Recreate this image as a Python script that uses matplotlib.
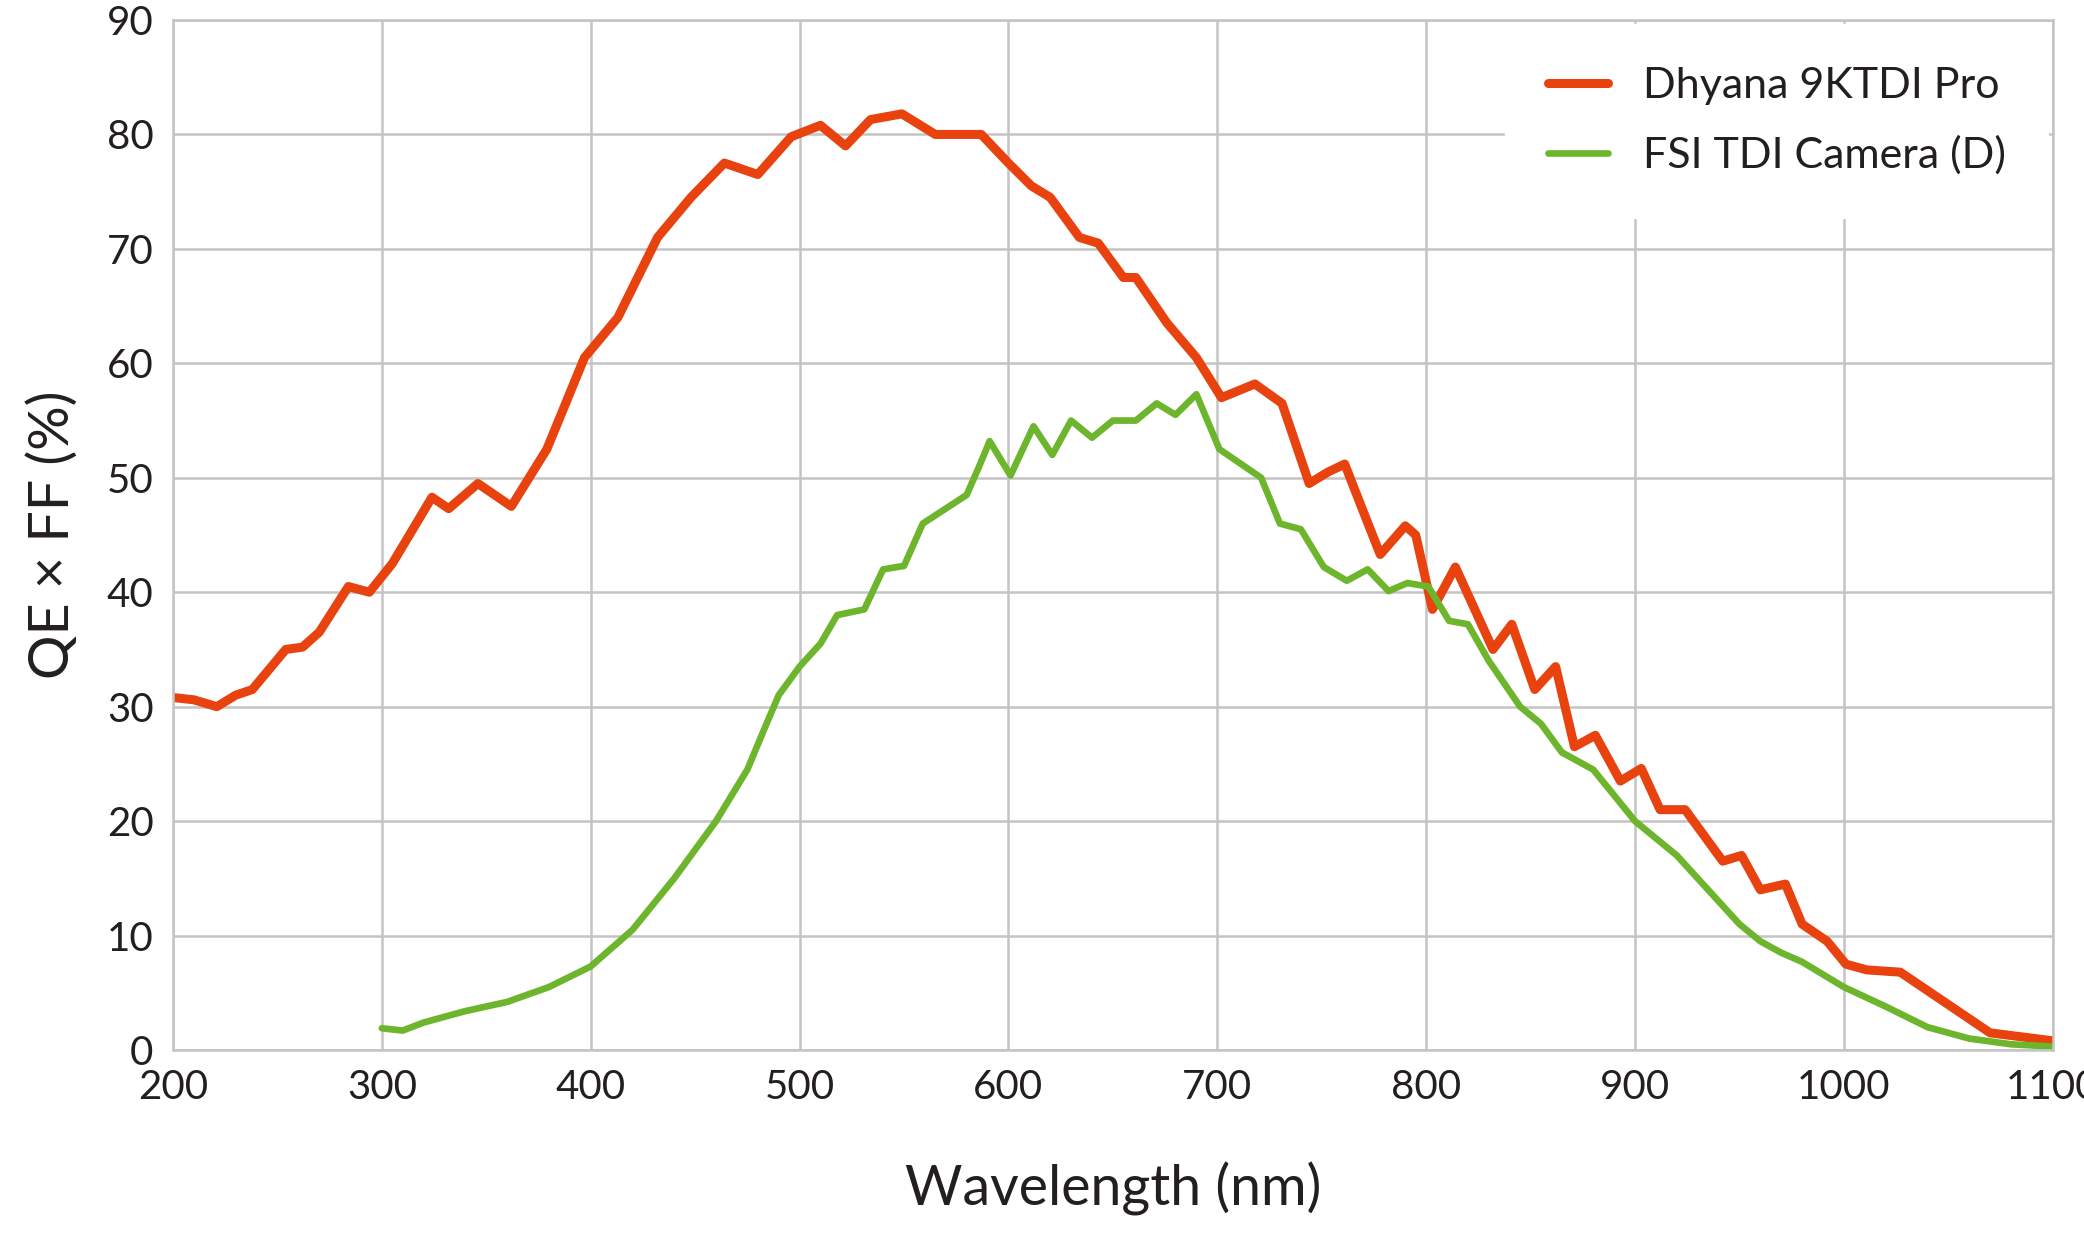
import matplotlib
matplotlib.use("Agg")
import matplotlib.pyplot as plt

red_x = [200,210,221,230,238,254,262,270,284,294,305,324,332,346,362,379,397,413,432,448,464,480,496,510,522,534,549,565,587,600,611,620,634,643,655,661,676,690,702,718,731,744,753,761,770,778,790,795,803,814,832,841,852,862,871,881,893,903,912,924,942,951,960,972,980,992,1001,1011,1027,1070,1100]
red_y = [30.8,30.6,30,31,31.5,35,35.2,36.5,40.5,40,42.5,48.3,47.3,49.5,47.5,52.5,60.5,64,71,74.5,77.5,76.5,79.8,80.8,79,81.3,81.8,80,80,77.5,75.5,74.5,71,70.5,67.5,67.5,63.5,60.5,57,58.2,56.5,49.5,50.5,51.2,47,43.3,45.8,45,38.5,42.2,35,37.2,31.5,33.5,26.5,27.5,23.5,24.6,21,21,16.5,17,14,14.5,11,9.5,7.5,7,6.8,1.5,0.8]
green_x = [300,310,320,340,360,380,400,420,440,460,475,483,490,500,510,518,531,540,550,559,580,586,591,601,612,621,630,640,650,661,671,680,690,701,721,730,740,751,762,772,782,791,801,811,820,830,845,855,865,880,900,920,940,950,960,970,980,1000,1020,1040,1060,1080,1100]
green_y = [1.9,1.7,2.4,3.4,4.2,5.5,7.3,10.5,15,20,24.5,28,31,33.5,35.5,38,38.5,42,42.3,46,48.5,51,53.2,50.2,54.5,52,55,53.5,55,55,56.5,55.5,57.3,52.5,50,46,45.5,42.2,41,42,40.1,40.8,40.5,37.5,37.2,34,30,28.5,26,24.5,20,17,13,11,9.5,8.5,7.7,5.5,3.8,2,1,0.5,0.3]
x_ticks = list(range(200, 1101, 100))
y_ticks = list(range(0, 91, 10))

plt.rcParams["font.family"] = "Lato"
fig = plt.figure(figsize=(20.84, 12.5), dpi=100)
ax = fig.add_axes([0.083, 0.16, 0.902, 0.824])
ax.plot(red_x, red_y, color="#e8420f", lw=6.5, label="Dhyana 9KTDI Pro", solid_joinstyle="round", solid_capstyle="round")
ax.plot(green_x, green_y, color="#6db52c", lw=4.8, label="FSI TDI Camera (D)", solid_joinstyle="round", solid_capstyle="round")
ax.set_xlim(200, 1100)
ax.set_ylim(0, 90)
ax.set_xticks(x_ticks)
ax.set_yticks(y_ticks)
ax.grid(color="#c4c4c4", lw=1.8)
ax.set_axisbelow(True)
for s in ax.spines.values():
    s.set_color("#c4c4c4"); s.set_linewidth(1.8)
ax.tick_params(length=0, labelsize=29, colors="#231f20", pad=14)
ax.set_xlabel("Wavelength (nm)", fontsize=40, color="#231f20", labelpad=40)
ax.set_ylabel("QE × FF (%)", fontsize=40, color="#231f20", labelpad=20)
leg = ax.legend(loc="upper right", fontsize=31, frameon=True, fancybox=False, framealpha=1,
                edgecolor="white", handlelength=1.4, borderpad=1.0, labelspacing=0.7, borderaxespad=0.1)
for t in leg.get_texts():
    t.set_color("#231f20")
fig.savefig("out.png", dpi=100)
